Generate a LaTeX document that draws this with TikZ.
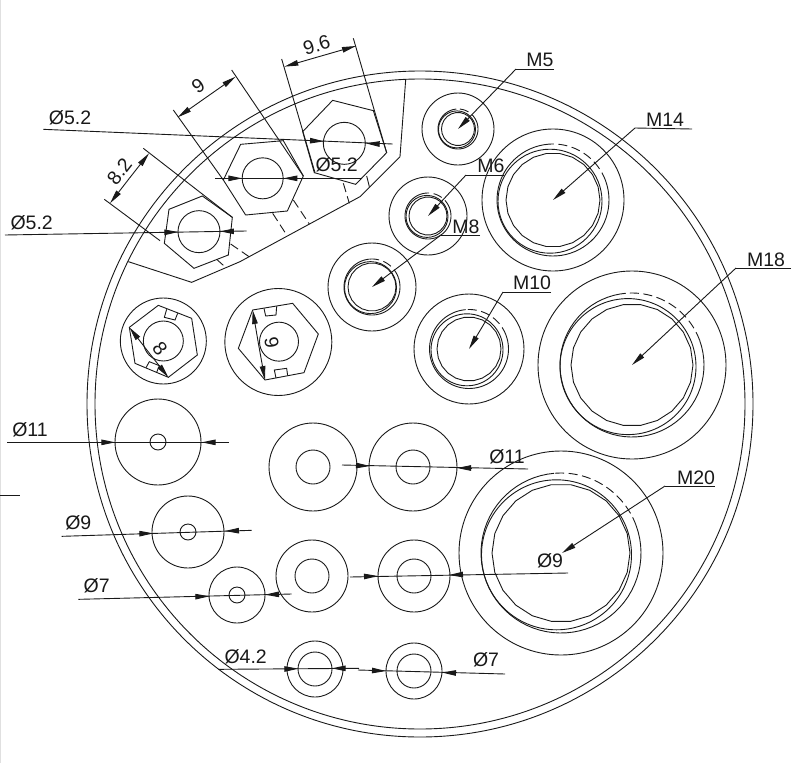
\documentclass[tikz,border=0pt]{standalone}
\usepackage{fontspec}
\setmainfont{Liberation Sans}
\usetikzlibrary{arrows.meta}
\tikzset{
  ln/.style={line width=0.9pt,color=black!90},
  dimtip/.style={ln,-{Triangle[length=14pt,width=5.5pt]},shorten >=0pt},
  hashed/.style={ln,dash pattern=on 9pt off 4.5pt},
  lbl/.style={font=\fontsize{19.5}{19.5}\selectfont,inner sep=0pt,text=black!90},
  zA/.style={shift={(0,20)},x=.33333pt,y=-.33333pt},
  zB/.style={shift={(100,280)},x=.33333pt,y=-.33333pt},
  zD/.style={shift={(0,400)},x=.33333pt,y=-.33333pt},
}
% cx cy R r1 r2 off r3
\newcommand{\threadhole}[7]{%
  \draw[ln] (#1,#2) circle[radius=#3pt];
  \draw[ln,domain=95:380,samples=60] plot ({#1+#4*cos(\x)},{#2-#4*sin(\x)});
  \draw[hashed,domain=20:95,samples=30] plot ({#1+#4*cos(\x)},{#2-#4*sin(\x)});
  \draw[ln] ({#1+#6},{#2+#6*-0.4}) circle[radius=#5pt];
  \draw[ln,domain=0:360,samples=23] plot ({#1+#7*cos(\x)},{#2-#7*sin(\x)});
}
\newcommand{\washer}[4]{%
  \draw[ln] (#1,#2) circle[radius=#3pt];
  \draw[ln] (#1,#2) circle[radius=#4pt];
}
\begin{document}
\begin{tikzpicture}[x=1pt,y=-1pt]
\useasboundingbox (0,0) rectangle (811,763);
\fill[black!12] (0,0) rectangle (1.2,763);

% plate
\draw[ln] (420,404) circle[radius=333pt];
\draw[ln] (420,404) circle[radius=325pt];
\draw[ln] (0,495) -- (20,495);

% threaded holes
\threadhole{458}{129}{36}{20}{18.5}{-1}{16.5}
\threadhole{428}{216}{39}{23}{21}{-1}{19}
\threadhole{372}{287}{44}{28}{26}{-1.5}{24}
\threadhole{553}{200}{71}{56}{52}{-3}{47}
\threadhole{469}{349}{55}{39.5}{36}{-2}{32}
\threadhole{632}{365}{94}{72}{68}{-4}{61}
\threadhole{561}{553}{102}{80}{75}{-4.5}{69}

% plain holes
\washer{158}{442}{43}{8}
\washer{188}{532}{36}{8}
\washer{237}{595}{28}{8}
\washer{313}{467}{44}{17}
\washer{413}{467}{44}{17}
\washer{312}{576}{36}{17}
\washer{414}{576}{36}{17}
\washer{315}{669}{28}{17}
\washer{414}{671}{28}{17}

% tilted hexagon pocket
\begin{scope}[zA]
  \draw[ln] (385,725) -- (575,787) -- (720,725) -- (1080,530) -- (1200,410) -- (1217,180);
  % hex 3
  \draw[ln] (998,241) -- (1120,272) -- (1160,398) -- (1067,493) -- (943,458) -- (908,335) -- cycle;
  \draw[ln] (1033,370) circle[radius=21pt];
  \draw[ln] (1060,55) -- (1160,398);
  \draw[ln] (845,117) -- (945,458);
  \draw[dimtip] (960,109) -- (853,140);
  \draw[dimtip] (960,109) -- (1068,78);
  \draw[hashed] (1030,490) -- (1048,550);
  \draw[ln] (1100,468) -- (1108,500);
  % hex 2
  \draw[ln] (722,373) -- (850,362) -- (910,468) -- (862,573) -- (737,585) -- (670,480) -- cycle;
  \draw[ln] (788,475) circle[radius=20.5pt];
  \draw[ln] (695,150) -- (910,468);
  \draw[ln] (520,270) -- (670,480);
  \draw[dimtip] (620,231) -- (533,292);
  \draw[dimtip] (620,231) -- (707,170);
  \draw[hashed] (818,580) -- (862,648);
  \draw[hashed] (880,540) -- (928,612);
  % hex 1
  \draw[ln] (607,528) -- (697,592) -- (685,705) -- (582,745) -- (493,670) -- (507,568) -- cycle;
  \draw[ln] (597,635) circle[radius=21pt];
  \draw[ln] (430,385) -- (697,592);
  \draw[ln] (313,538) -- (480,662);
  \draw[dimtip] (388,475) -- (330,550);
  \draw[dimtip] (388,475) -- (447,400);
  \draw[hashed] (650,718) -- (680,745);
  \draw[hashed] (692,672) -- (750,712);
  % diameter dimensions
  \draw[ln] (130,328) -- (1178,372);
  \draw[dimtip] (930,362) -- (972,364);
  \draw[dimtip] (1137,372) -- (1097,370);
  \draw[ln] (645,475) -- (1085,475);
  \draw[dimtip] (683,475) -- (727,475);
  \draw[dimtip] (893,475) -- (850,475);
  \draw[ln] (15,645) -- (740,633);
  \draw[dimtip] (492,637) -- (535,636);
  \draw[dimtip] (698,634) -- (660,634);
  \node[lbl] (t96) at (950,75) [rotate=17] {9.6};
  \node[lbl] (t9a) at (595,198) [rotate=35] {9};
  \node[lbl] (t82) at (358,455) [rotate=52] {8.2};
  \node[lbl] (d52a) at (210,292) {Ø5.2};
  \node[lbl] (d52b) at (1010,435) {Ø5.2};
  \node[lbl] (d52c) at (95,607) {Ø5.2};
\end{scope}

% upright hexagon sections
\begin{scope}[zB]
  \draw[ln] (190,183) circle[radius=43pt];
  \draw[ln] (190,183) circle[radius=20pt];
  \draw[ln] (175,76) -- (275,115) -- (292,225) -- (205,292) -- (105,250) -- (88,142) -- cycle;
  \draw[ln] (200,88) -- (193,112) -- (225,120) -- (233,100);
  \draw[ln] (138,263) -- (148,245) -- (178,257) -- (170,277);
  \draw[dimtip] (146,217) -- (88,142);
  \draw[dimtip] (146,217) -- (205,292);
  \node[lbl,rotate=-52] (t8) at (180,205) {8};

  \draw[ln] (535,186) circle[radius=53.5pt];
  \draw[ln] (537,185) circle[radius=19.5pt];
  \draw[ln] (458,90) -- (578,70) -- (655,162) -- (612,278) -- (495,300) -- (415,205) -- cycle;
  \draw[ln] (492,85) -- (497,108) -- (528,105) -- (530,79);
  \draw[ln] (528,294) -- (523,270) -- (560,265) -- (563,287);
  \draw[dimtip] (476,195) -- (458,90);
  \draw[dimtip] (476,195) -- (495,300);
  \node[lbl,rotate=-80] (t9b) at (515,187) {9};
\end{scope}

% left and lower diameters
\begin{scope}[zD]
  \draw[ln] (22,127) -- (687,127);
  \draw[dimtip] (303,127) -- (346,127);
  \draw[dimtip] (648,127) -- (605,127);
  \node[lbl] (d11a) at (90,88) {Ø11};
  \draw[ln] (185,409) -- (755,391);
  \draw[dimtip] (417,401) -- (460,400);
  \draw[dimtip] (715,392) -- (675,393);
  \node[lbl] (d9a) at (235,368) {Ø9};
  \draw[ln] (235,598) -- (875,582);
  \draw[dimtip] (585,590) -- (628,589);
  \draw[dimtip] (838,583) -- (795,584);
  \node[lbl] (d7a) at (290,558) {Ø7};
  \draw[ln] (655,808) -- (1077,805);
  \draw[dimtip] (853,807) -- (895,806);
  \draw[dimtip] (1035,805) -- (995,805);
  \node[lbl] (d42) at (737,770) {Ø4.2};
\end{scope}

% middle diameters
\draw[ln] (342,465) -- (528,469);
\draw[dimtip] (356,465.5) -- (370,466);
\draw[dimtip] (471,468) -- (457,468);
\node[lbl] (d11b) at (507,457) {Ø11};
\draw[ln] (350,577) -- (568,573);
\draw[dimtip] (364,576.5) -- (378,576);
\draw[dimtip] (463,574.5) -- (449,575);
\node[lbl] (d9b) at (550,561) {Ø9};
\draw[ln] (358,670) -- (505,674);
\draw[dimtip] (372,670.5) -- (386,671);
\draw[dimtip] (456,673) -- (442,672.5);
\node[lbl] (d7b) at (486,660) {Ø7};

% thread leaders
\draw[ln] (554,69) -- (516,69);
\draw[dimtip] (516,69) -- (458,129);
\node[lbl] (m5) at (540,60) {M5};
\draw[ln] (504,175) -- (466,175);
\draw[dimtip] (466,175) -- (428,216);
\node[lbl] (m6) at (491,166) {M6};
\draw[ln] (480,235) -- (441,235);
\draw[dimtip] (441,235) -- (372,287);
\node[lbl] (m8) at (466,227) {M8};
\draw[ln] (551,292) -- (503,292);
\draw[dimtip] (503,292) -- (469,349);
\node[lbl] (m10) at (532,283) {M10};
\draw[ln] (692,129) -- (635,128);
\draw[dimtip] (635,128) -- (553,200);
\node[lbl] (m14) at (665,120) {M14};
\draw[ln] (791,268) -- (736,268);
\draw[dimtip] (736,268) -- (632,365);
\node[lbl] (m18) at (766,260) {M18};
\draw[ln] (715,486) -- (665,486);
\draw[dimtip] (665,486) -- (562,553);
\node[lbl] (m20) at (696,478) {M20};
\end{tikzpicture}
\end{document}
